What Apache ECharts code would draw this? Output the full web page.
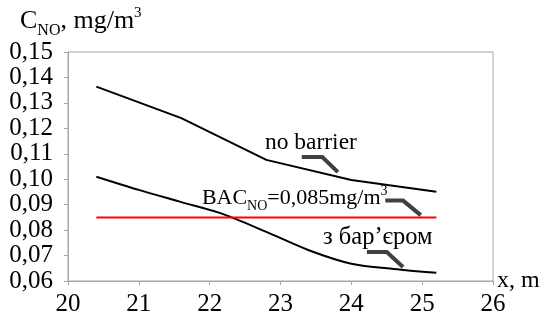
<!DOCTYPE html>
<html>
<head>
<meta charset="utf-8">
<script src="https://cdn.jsdelivr.net/npm/echarts@6/dist/echarts.min.js"></script>
<style>html,body{margin:0;padding:0;background:#fff}#c{width:541px;height:320px}</style>
</head>
<body>
<div id="c"></div>
<script>
// ---- data ----
const xNoBarrier = [20.4, 21.6, 22.8, 24.0, 25.2];
const noBarrier = [0.1364, 0.1240, 0.1076, 0.0997, 0.0951];
const xWithBarrier = [20.4, 21.0, 21.6, 22.2, 22.8, 23.4, 24.0, 24.6, 25.2];
const withBarrier = [0.1010, 0.0958, 0.0910, 0.0862, 0.0793, 0.0721, 0.0668, 0.0647, 0.0632];
const bacX = [20.4, 25.2];
const bacValue = [0.085, 0.085];
const yTicks = [0.06, 0.07, 0.08, 0.09, 0.10, 0.11, 0.12, 0.13, 0.14, 0.15];
const xTicks = [20, 21, 22, 23, 24, 25, 26];

// ---- annotation anchors (data space) ----
const annoNoBarrier = [22.78, 0.1142];
const leaderNoBarrier = [[23.30, 0.1087], [23.59, 0.1087], [23.81, 0.1028]];
const annoBac = [21.89, 0.0932];
const leaderBac = [[24.48, 0.0916], [24.73, 0.0916], [24.98, 0.0859]];
const annoWith = [23.60, 0.0769];
const leaderWith = [[24.22, 0.0714], [24.50, 0.0714], [24.73, 0.0655]];

const FONT = 'Liberation Serif';
const GREY = '#a6a6a6';

const chart = echarts.init(document.getElementById('c'), null, {renderer: 'canvas'});
const pair = (xs, ys) => xs.map((x, i) => [x, ys[i]]);

chart.setOption({
  animation: false,
  backgroundColor: '#fff',
  textStyle: {fontFamily: FONT},
  grid: {left: 68, right: 48, top: 52, bottom: 39, show: true, borderColor: GREY, borderWidth: 1,
    containLabel: false, outerBoundsMode: 'none'},
  xAxis: {
    type: 'value', min: xTicks[0], max: xTicks[xTicks.length - 1], interval: 1,
    name: 'x, m', nameLocation: 'end', nameGap: 4, nameMoveOverlap: false,
    nameTextStyle: {fontFamily: FONT, fontSize: 24, color: '#000', verticalAlign: 'middle'},
    axisLine: {lineStyle: {color: GREY, width: 1}},
    axisTick: {show: true, length: 4, lineStyle: {color: GREY}},
    axisLabel: {fontFamily: FONT, fontSize: 25, color: '#000', margin: 11},
    splitLine: {show: false}
  },
  yAxis: {
    type: 'value', min: yTicks[0], max: yTicks[yTicks.length - 1], interval: 0.01,
    axisLine: {show: true, lineStyle: {color: GREY, width: 1}},
    axisTick: {show: true, length: 4, lineStyle: {color: GREY}},
    axisLabel: {fontFamily: FONT, fontSize: 25, color: '#000', margin: 15,
      formatter: v => v.toFixed(2).replace('.', ',')},
    splitLine: {show: false}
  },
  series: [
    {type: 'line', data: pair(xNoBarrier, noBarrier), showSymbol: false, smooth: false,
      lineStyle: {color: '#000', width: 2}},
    {type: 'line', data: pair(xWithBarrier, withBarrier), showSymbol: false, smooth: 0.3,
      lineStyle: {color: '#000', width: 2}},
    {type: 'line', data: pair(bacX, bacValue), showSymbol: false,
      lineStyle: {color: '#ff0000', width: 2}}
  ]
});

function px(p) { return chart.convertToPixel({gridIndex: 0}, p); }

const elements = [];
// title
elements.push({
  type: 'text', left: 20, top: 4,
  style: {
    text: '{m|C}{s|NO}{m|, mg/m}{p|3}',
    rich: {
      m: {fontFamily: FONT, fontSize: 26, fill: '#000', lineHeight: 30, verticalAlign: 'bottom'},
      s: {fontFamily: FONT, fontSize: 16, fill: '#000', lineHeight: 30, verticalAlign: 'bottom', padding: [0, 0, -5, 0]},
      p: {fontFamily: FONT, fontSize: 15, fill: '#000', lineHeight: 30, verticalAlign: 'top', padding: [2, 0, 0, 0]}
    }
  }
});
function label(anchor, text, rich, size) {
  const p = px(anchor);
  elements.push({type: 'text', x: p[0], y: p[1],
    style: {text: text, rich: rich, fontFamily: FONT, fontSize: size, fill: '#000',
      textAlign: 'left', textVerticalAlign: 'middle'}});
}
function leader(pts) {
  elements.push({type: 'polyline', shape: {points: pts.map(px)},
    style: {stroke: '#404040', lineWidth: 4, fill: null}});
}
label(annoNoBarrier, 'no barrier', null, 23.5);
label(annoWith, 'з бар\u2019єром', null, 24.5);
label(annoBac, '{m|BAC}{s|NO}{m|=0,085mg/m}{p|3}', {
  m: {fontFamily: FONT, fontSize: 22, fill: '#000', lineHeight: 26, verticalAlign: 'bottom'},
  s: {fontFamily: FONT, fontSize: 14, fill: '#000', lineHeight: 26, verticalAlign: 'bottom', padding: [0, 0, -4, 0]},
  p: {fontFamily: FONT, fontSize: 14, fill: '#000', lineHeight: 26, verticalAlign: 'top', padding: [1, 0, 0, 0]}
}, 22);
leader(leaderNoBarrier);
leader(leaderBac);
leader(leaderWith);

chart.setOption({graphic: {elements: elements}});
</script>
</body>
</html>
